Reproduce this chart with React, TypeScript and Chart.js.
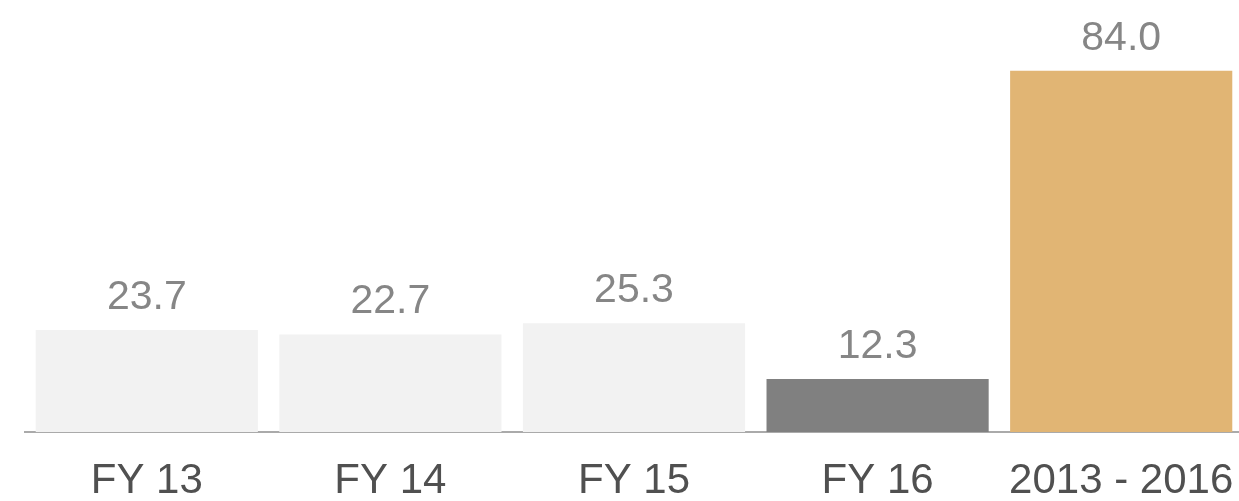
import React, { useEffect, useRef } from "react";
import { Chart, registerables } from "chart.js";

Chart.register(...registerables);

const categories: string[] = ["FY 13", "FY 14", "FY 15", "FY 16", "2013 - 2016"];
const values: number[] = [23.7, 22.7, 25.3, 12.3, 84.0];
const barColors: string[] = ["#f2f2f2", "#f2f2f2", "#f2f2f2", "#808080", "#e1b574"];

const valueLabelPlugin = {
  id: "valueLabels",
  afterDatasetsDraw(chart: any) {
    const ctx = chart.ctx;
    const meta = chart.getDatasetMeta(0);
    ctx.save();
    ctx.font = '41px "Liberation Sans", Arial, sans-serif';
    ctx.fillStyle = "#868686";
    ctx.textAlign = "center";
    ctx.textBaseline = "alphabetic";
    meta.data.forEach((bar: any, i: number) => {
      const v = chart.data.datasets[0].data[i] as number;
      ctx.fillText(v.toFixed(1), bar.x, bar.y - 21);
    });
    ctx.restore();
  },
};

export default function App() {
  const ref = useRef<HTMLCanvasElement | null>(null);
  useEffect(() => {
    document.body.style.margin = "0";
    document.body.style.overflow = "hidden";
    if (!ref.current) return;
    const chart = new Chart(ref.current, {
      type: "bar",
      data: {
        labels: categories,
        datasets: [
          {
            data: values,
            backgroundColor: barColors,
            borderWidth: 0,
            categoryPercentage: 1,
            barPercentage: 0.912,
          },
        ],
      },
      options: {
        responsive: false,
        animation: false,
        devicePixelRatio: 1,
        layout: { padding: { top: 2, left: 25, right: 0, bottom: 0 } },
        plugins: { legend: { display: false }, tooltip: { enabled: false } },
        scales: {
          x: {
            grid: { display: false, drawTicks: false },
            border: { display: true, color: "#aaaaaa", width: 2 },
            ticks: {
              color: "#505050",
              padding: 28,
              font: { family: '"Liberation Sans", Arial, sans-serif', size: 42, lineHeight: 1 },
              maxRotation: 0,
              autoSkip: false,
            },
            afterFit(scale: any) {
              scale.paddingLeft = 0;
              scale.paddingRight = 0;
            },
          },
          y: {
            display: false,
            min: 0,
            max: 100,
          },
        },
      },
      plugins: [valueLabelPlugin],
    });
    return () => chart.destroy();
  }, []);
  return (
    <div style={{ position: "fixed", left: 0, top: 0, width: 1239, height: 501, overflow: "hidden", background: "#fff" }}>
      <canvas ref={ref} width={1243} height={530} style={{ width: 1243, height: 530, display: "block" }} />
    </div>
  );
}
